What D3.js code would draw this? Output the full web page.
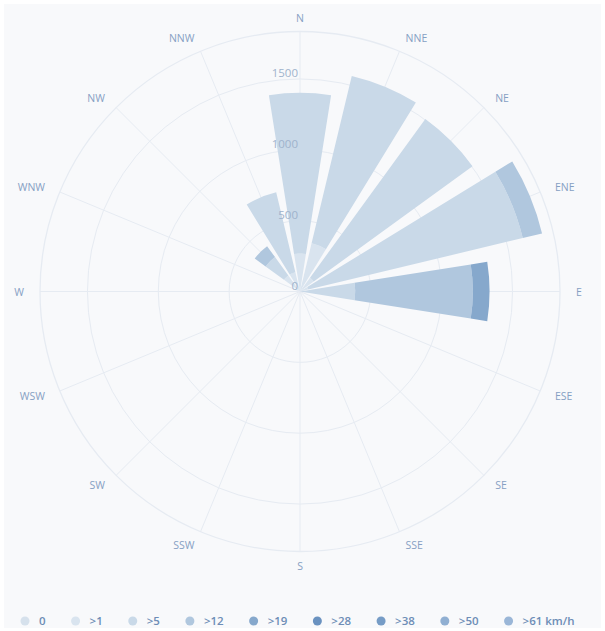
<!DOCTYPE html>
<html>
<head>
<meta charset="utf-8">
<script src="https://cdn.jsdelivr.net/npm/d3@7"></script>
<style>
  body { margin: 0; background: #fff; }
  svg { display: block; font-family: "Open Sans", "DejaVu Sans", sans-serif; }
</style>
</head>
<body>
<div id="wrapper"></div>
<script>

// wind directions, clockwise from north
const directions = ["N", "NNE", "NE", "ENE", "E", "ESE", "SE", "SSE",
  "S", "SSW", "SW", "WSW", "W", "WNW", "NW", "NNW"]

// speed classes (legend)
const speedClasses = ["0", ">1", ">5", ">12", ">19", ">28", ">38", ">50", ">61 km/h"]
const speedColors = ["#d6e1ec", "#d9e4ef", "#c9d9e8", "#b0c7de", "#86a8cc",
  "#6a92c0", "#769cc6", "#90afd2", "#9ab6d7"]

// counts per speed class, one value per direction
const calm    = [0, 0, 0, 0, 0, 0, 0, 0, 0, 0, 0, 0, 0, 0, 0, 0]
const over1   = [268, 350, 120, 60, 0, 0, 0, 0, 0, 0, 0, 0, 0, 0, 140, 140]
const over5   = [1135, 1215, 1385, 1557, 390, 0, 0, 0, 0, 0, 0, 0, 0, 0, 160, 580]
const over12  = [0, 0, 0, 140, 830, 0, 0, 0, 0, 0, 0, 0, 0, 0, 95, 0]
const over19  = [0, 0, 0, 0, 118, 0, 0, 0, 0, 0, 0, 0, 0, 0, 0, 0]
const over28  = [0, 0, 0, 0, 0, 0, 0, 0, 0, 0, 0, 0, 0, 0, 0, 0]
const over38  = [0, 0, 0, 0, 0, 0, 0, 0, 0, 0, 0, 0, 0, 0, 0, 0]
const over50  = [0, 0, 0, 0, 0, 0, 0, 0, 0, 0, 0, 0, 0, 0, 0, 0]
const over61  = [0, 0, 0, 0, 0, 0, 0, 0, 0, 0, 0, 0, 0, 0, 0, 0]

const radialTicks = [0, 500, 1000, 1500]
const radialMax = 1835

function drawChart() {
  const seriesValues = [calm, over1, over5, over12, over19, over28, over38, over50, over61]

  // one row per direction for d3.stack
  const dataset = directions.map((dir, i) => {
    const row = { dir }
    speedClasses.forEach((s, j) => row[s] = seriesValues[j][i])
    return row
  })

  const width = 605
  const height = 631
  const cx = 300
  const cy = 291.5
  const outerRadius = 260
  const labelRadius = 276

  const wrapper = d3.select("#wrapper")
    .append("svg")
      .attr("width", width)
      .attr("height", height)

  wrapper.append("rect")
      .attr("x", 4)
      .attr("y", 4)
      .attr("width", width - 8)
      .attr("height", height - 7)
      .attr("fill", "#f8f9fb")

  const bounds = wrapper.append("g")
      .attr("transform", `translate(${cx},${cy})`)

  // scales
  const rScale = d3.scaleLinear()
    .domain([0, radialMax])
    .range([0, outerRadius])

  const angleScale = d3.scaleBand()
    .domain(directions)
    .range([-Math.PI / 16, 2 * Math.PI - Math.PI / 16])
    .paddingInner(0.2)
    .paddingOuter(0.1)

  const centerAngle = d => angleScale(d) + angleScale.bandwidth() / 2

  // grid: circles and spokes
  const gridColor = "#e6ebf2"
  bounds.selectAll(".ring")
    .data(radialTicks.filter(t => t > 0))
    .join("circle")
      .attr("class", "ring")
      .attr("r", d => rScale(d))
      .attr("fill", "none")
      .attr("stroke", gridColor)
      .attr("stroke-width", 1)

  bounds.append("circle")
      .attr("r", outerRadius)
      .attr("fill", "none")
      .attr("stroke", gridColor)
      .attr("stroke-width", 1.3)

  bounds.selectAll(".spoke")
    .data(directions)
    .join("line")
      .attr("class", "spoke")
      .attr("x1", 0)
      .attr("y1", 0)
      .attr("x2", d => outerRadius * Math.sin(centerAngle(d)))
      .attr("y2", d => -outerRadius * Math.cos(centerAngle(d)))
      .attr("stroke", gridColor)
      .attr("stroke-width", 1)

  // stacked bars
  const stacked = d3.stack().keys(speedClasses)(dataset)

  const arc = d3.arc()
    .innerRadius(d => rScale(d[0]))
    .outerRadius(d => rScale(d[1]))
    .startAngle(d => angleScale(d.data.dir))
    .endAngle(d => angleScale(d.data.dir) + angleScale.bandwidth())

  bounds.selectAll(".series")
    .data(stacked)
    .join("g")
      .attr("class", "series")
      .attr("fill", (d, i) => speedColors[i])
    .selectAll("path")
    .data(d => d.filter(p => p[1] > p[0]))
    .join("path")
      .attr("d", arc)

  // radial axis labels
  bounds.selectAll(".tickLabel")
    .data(radialTicks)
    .join("text")
      .attr("class", "tickLabel")
      .attr("x", -2)
      .attr("y", d => -rScale(d) - 2)
      .attr("text-anchor", "end")
      .attr("fill", "#9fb3cc")
      .style("font-size", "11.5px")
      .text(d => d)

  // direction labels: left side end-anchored, right side start-anchored
  const anchorFor = a => {
    const s = Math.sin(a)
    if (Math.abs(s) < 0.01) return "middle"
    return s > 0 ? "start" : "end"
  }

  bounds.selectAll(".dirLabel")
    .data(directions)
    .join("text")
      .attr("class", "dirLabel")
      .attr("x", d => labelRadius * Math.sin(centerAngle(d)))
      .attr("y", d => -(labelRadius - 2) * Math.cos(centerAngle(d)))
      .attr("text-anchor", d => anchorFor(centerAngle(d)))
      .attr("dominant-baseline", "central")
      .attr("fill", "#86a0c3")
      .style("font-size", "10.5px")
      .text(d => d)

  // legend
  const legend = wrapper.append("g")
      .attr("transform", "translate(25,621)")
  let x = 0
  speedClasses.forEach((s, i) => {
    const item = legend.append("g")
        .attr("transform", `translate(${x},0)`)
    item.append("circle")
        .attr("cx", 0)
        .attr("cy", 0)
        .attr("r", 4.5)
        .attr("fill", speedColors[i])
    const label = item.append("text")
        .attr("x", 14)
        .attr("y", 4)
        .attr("fill", "#6d8db6")
        .style("font-size", "11.5px")
        .style("font-weight", "600")
        .text(s)
    x += 14 + label.node().getComputedTextLength() + 30
  })
}

drawChart()
</script>
</body>
</html>
